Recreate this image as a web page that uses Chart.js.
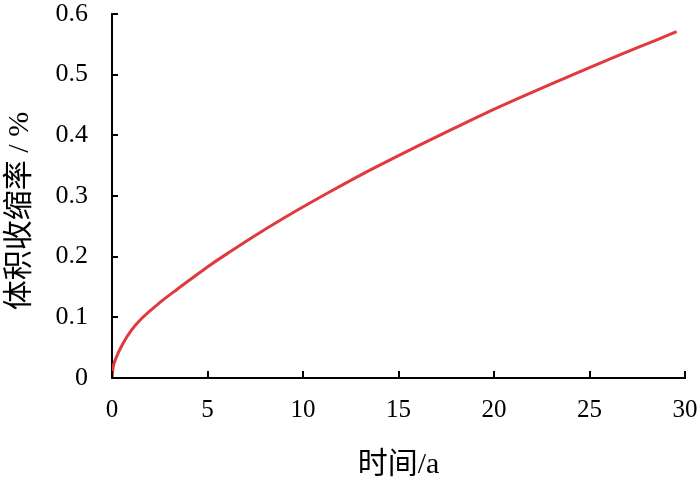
<!DOCTYPE html>
<html>
<head>
<meta charset="utf-8">
<script src="https://cdn.jsdelivr.net/npm/chart.js@4.4.0/dist/chart.umd.min.js"></script>
<style>
  html, body { margin: 0; padding: 0; background: #fff; }
  canvas { display: block; }
</style>
</head>
<body>
<canvas id="shrinkChart" width="700" height="483"></canvas>
<script>
// values
const timeYears = [0, 0.05, 0.2, 0.56, 1.0, 1.55, 2.53, 3.4, 4.26, 5.13, 6.18, 7.92, 9.67, 11.41, 13.16, 14.9, 16.1, 17.87, 19.6, 21.36, 23.1, 25.03, 26.77, 28.5, 29.56];
const shrinkage = [0, 0.016, 0.032, 0.056, 0.078, 0.098, 0.125, 0.146, 0.166, 0.186, 0.208, 0.243, 0.276, 0.307, 0.337, 0.365, 0.384, 0.411, 0.437, 0.462, 0.486, 0.512, 0.535, 0.557, 0.571];

const xTickLabels = ["0", "5", "10", "15", "20", "25", "30"];
const yTickLabels = ["0", "0.1", "0.2", "0.3", "0.4", "0.5", "0.6"];
const yTitle = "体积收缩率 / %";

const serif = "'Liberation Serif', 'Times New Roman', 'Noto Sans CJK SC', serif";

// small inward tick marks + the rotated y title, like the original figure
const figureExtras = {
    id: "figureExtras",
    afterDraw(chart){
        const c = chart.ctx;
        const xs = chart.scales.x;
        const ys = chart.scales.y;
        c.save();
        c.strokeStyle = "#000";
        c.lineWidth = 2;
        c.beginPath();
        xs.ticks.forEach(t => {
            const px = Math.round(xs.getPixelForValue(t.value));
            c.moveTo(px, ys.bottom);
            c.lineTo(px, ys.bottom - 7);
        });
        ys.ticks.forEach(t => {
            const py = Math.round(ys.getPixelForValue(t.value));
            c.moveTo(xs.left, py);
            c.lineTo(xs.left + 6, py);
        });
        c.stroke();

        c.translate(20, ys.top + (ys.bottom - ys.top) / 2 + 15);
        c.rotate(-Math.PI / 2);
        c.fillStyle = "#000";
        c.font = "30px " + serif;
        c.textAlign = "center";
        c.textBaseline = "middle";
        c.fillText(yTitle, 0, 0);
        c.restore();
    }
};

const ctx = document.getElementById("shrinkChart");

new Chart(ctx, {
    type: "line",
    data: {
        datasets: [
            {
                data: timeYears.map((t, i) => ({ x: t, y: shrinkage[i] })),
                borderColor: "#e0393e",
                borderWidth: 3,
                pointRadius: 0,
                cubicInterpolationMode: "monotone",
                fill: false
            }
        ]
    },
    options: {
        responsive: false,
        animation: false,
        layout: {
            padding: { top: 14, right: 15, left: 0, bottom: 0 }
        },
        plugins: {
            legend: { display: false },
            tooltip: { enabled: false }
        },
        scales: {
            x: {
                type: "linear",
                min: 0,
                max: 30,
                afterFit(s){
                    s.height = 105;
                    s.paddingLeft = 0;
                    s.paddingRight = 0;
                },
                ticks: {
                    stepSize: 5,
                    color: "#000",
                    padding: 17,
                    font: { family: serif, size: 25 },
                    callback: (v) => xTickLabels[v / 5]
                },
                grid: { drawOnChartArea: false, drawTicks: false },
                border: { color: "#000", width: 2 },
                title: {
                    display: true,
                    text: "时间/a",
                    color: "#000",
                    font: { family: serif, size: 30 },
                    padding: { top: 0, bottom: 0 }
                }
            },
            y: {
                min: 0,
                max: 0.6,
                afterFit(s){
                    s.width = 112;
                    s.paddingTop = 0;
                    s.paddingBottom = 0;
                },
                ticks: {
                    stepSize: 0.1,
                    color: "#000",
                    padding: 24,
                    font: { family: serif, size: 26 },
                    callback: (v) => yTickLabels[Math.round(v * 10)]
                },
                grid: { drawOnChartArea: false, drawTicks: false },
                border: { color: "#000", width: 2 },
                title: { display: false }
            }
        }
    },
    plugins: [figureExtras]
});
</script>
</body>
</html>
